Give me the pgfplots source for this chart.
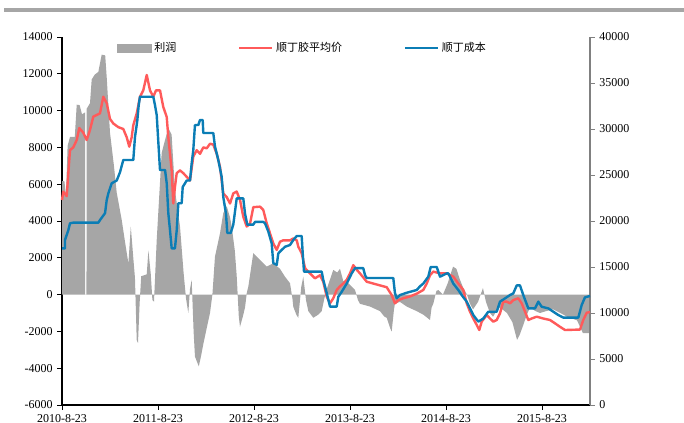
\documentclass[border=0pt]{standalone}
\usepackage{pgfplots}
\pgfplotsset{compat=1.18}
\usepackage{fontspec}
\setmainfont{Liberation Serif}
\newfontfamily\cjk{Noto Sans CJK SC}
\definecolor{profitgray}{HTML}{A6A6A6}
\definecolor{pricered}{HTML}{FF5A5A}
\definecolor{costblue}{HTML}{0B7DB5}
\definecolor{axgray}{HTML}{808080}
\pgfplotsset{
  linelegend/.style={legend image code/.code={\draw[##1] (0pt,0pt) -- (25pt,0pt);}},
  myaxis/.style={
    at={(46.5pt,13.5pt)}, anchor=south west, scale only axis,
    width=396pt, height=276pt, xmin=0, xmax=66,
    font=\fontsize{9}{10}\selectfont,
    tick align=outside, major tick length=3.5pt,
    scaled y ticks=false,
    yticklabel style={/pgf/number format/.cd, 1000 sep={}, assume math mode=true},
    clip=false,
  }
}
\begin{document}
\begin{tikzpicture}
\useasboundingbox (0,0) rectangle (513pt,317.25pt);
\draw[profitgray, line width=3pt] (3pt,309.75pt) -- (513pt,309.75pt);
\begin{axis}[myaxis,
  ymin=-6000, ymax=14000,
  axis x line*=bottom, axis y line*=left,
  axis line style={black, line width=0.8pt},
  tick style={black, line width=0.6pt},
  xtick={0,12,24,36,48,60},
  xticklabels={2010-8-23,2011-8-23,2012-8-23,2013-8-23,2014-8-23,2015-8-23},
  ytick={-6000,-4000,-2000,0,2000,4000,6000,8000,10000,12000,14000},
]
\addplot[fill=profitgray, draw=none] coordinates {
(0,6160)(0.3,6160)(0.5,5400)(0.7,8080)(1.0,8570)(1.6,8570)(1.84,10320)(2.2,10300)(2.5,9800)
(2.88,9900)(2.9,0)(3.06,0)(3.08,10100)(3.5,10400)(3.71,11690)(4.1,11960)(4.54,12100)
(4.96,13040)(5.4,13000)(5.59,11800)(6.0,8800)(6.5,6970)(6.84,5540)(7.46,4070)(7.9,2800)
(8.3,1700)(8.6,3700)(8.9,2060)(9.12,900)(9.34,-2470)(9.5,-2630)(9.7,-500)(9.9,1000)
(10.59,1100)(10.8,2400)(11.1,1100)(11.3,-300)(11.5,-380)(11.84,2970)(12.46,7700)(12.88,8400)
(13.29,9050)(13.7,8700)(14.12,5680)(14.75,3700)(15.2,1180)(15.5,-200)(15.79,-1000)(16.0,300)
(16.21,800)(16.45,-2000)(16.62,-3370)(17.1,-3900)(17.4,-3300)(17.66,-2700)(18.1,-1800)(18.5,-1000)
(18.8,0)(19.12,2060)(19.75,3330)(20.16,4430)(20.59,4800)(21.0,4200)(21.21,3700)(21.6,2400)
(21.84,1000)(22.1,-1200)(22.25,-1750)(22.6,-1200)(22.88,-700)(23.1,100)(23.29,430)(23.91,2250)
(24.75,1880)(25.59,1520)(26.41,1700)(27.25,1400)(27.88,970)(28.5,620)(28.8,-200)(28.91,-660)
(29.3,-1100)(29.54,-1260)(29.9,400)(30.16,970)(30.5,-300)(30.79,-900)(31.41,-1260)(32.0,-1100)
(32.46,-900)(32.8,-200)(33.09,300)(33.91,1340)(34.4,1200)(34.75,1400)(35.16,740)(35.79,620)
(36.3,400)(36.62,260)(37.0,-300)(37.25,-500)(38.5,-650)(39.75,-900)(40.3,-1200)(40.59,-1260)
(41.0,-1800)(41.21,-2010)(41.5,-800)(41.62,-480)(42.25,-400)(43.09,-650)(44.34,-900)(45.2,-1100)
(46.0,-1380)(46.2,-700)(46.41,-500)(46.8,200)(47.04,250)(47.4,100)(47.62,0)(48.2,600)
(48.88,1520)(49.3,1400)(49.75,800)(50.12,400)(50.62,0)(51.0,-500)(51.38,-800)(52.0,-400)
(52.62,350)(53.0,-400)(53.5,-1000)(53.88,-1200)(54.3,-900)(54.75,-700)(55.62,-1000)(56.3,-1500)
(56.88,-2460)(57.2,-2200)(57.62,-1700)(58.1,-1100)(58.5,-700)(59.2,-900)(59.75,-1000)(60.5,-900)
(61.38,-800)(62.3,-1000)(63.12,-1200)(64.38,-1400)(65.12,-2100)(66,-2100)
} \closedcycle;
\end{axis}
\begin{axis}[myaxis,
  ymin=0, ymax=40000,
  axis y line*=right, axis x line=none,
  axis line style={axgray, line width=0.8pt},
  tick style={axgray, line width=0.6pt},
  ytick={0,5000,10000,15000,20000,25000,30000,35000,40000},
  legend columns=3,
  legend style={at={(0.1042,0.970)}, anchor=west, draw=none, fill=none, inner sep=0pt,
    font=\cjk\fontsize{8.25}{9}\selectfont,
    /tikz/every even column/.append style={column sep=44pt}},
  legend cell align=left,
]
\addlegendimage{legend image code/.code={\fill[profitgray] (0pt,-3pt) rectangle (25.5pt,3pt);}}
\addlegendentry{利润}
\addplot[pricered, line width=1.8pt, line join=round, linelegend] coordinates {
(0,22280)(0.16,23190)(0.59,22700)(0.79,25200)(1.0,27700)(1.41,28000)(1.84,28800)(2.16,30100)
(2.66,29600)(3.09,28800)(3.5,29900)(3.91,31340)(4.75,31700)(5.16,33510)(5.59,32800)(6.0,31100)
(6.41,30600)(7.04,30200)(7.66,30000)(8.09,29100)(8.41,28080)(8.71,29100)(8.91,30400)(9.34,31700)
(9.75,33500)(10.16,34200)(10.59,35870)(11.0,34200)(11.41,33500)(11.75,34200)(12.25,34200)(12.66,32400)
(13.09,31300)(13.29,29100)(13.71,25500)(13.91,21900)(14.12,23700)(14.34,25200)(14.75,25500)(15.16,25200)
(15.59,24800)(16.0,24400)(16.41,27000)(16.84,27700)(17.25,27300)(17.66,28000)(18.09,27900)(18.5,28400)
(18.91,28300)(19.34,27300)(19.75,25900)(20.16,23000)(20.59,22600)(21.0,21900)(21.41,23000)(21.84,23200)
(22.25,22300)(22.66,20470)(23.09,19400)(23.5,19700)(23.91,21500)(24.75,21560)(25.16,21200)(25.59,19750)
(26.0,18660)(26.41,17570)(26.84,16850)(27.25,17750)(27.66,17900)(28.5,17900)(28.91,18100)(29.34,17900)
(29.54,17200)(29.96,16500)(30.38,14870)(31.0,14300)(31.62,13770)(32.25,14100)(32.66,13400)(33.09,11770)
(33.5,11050)(33.91,11600)(34.34,12500)(34.75,12900)(35.16,13200)(35.59,13600)(36.0,14300)(36.41,15200)
(36.84,14700)(37.25,14300)(38.09,13400)(38.91,13200)(39.75,13000)(40.59,12800)(41.21,11950)(41.62,11050)
(42.04,11400)(42.66,11600)(43.5,11800)(44.34,12100)(45.16,12500)(45.59,13200)(46.0,14100)(46.41,14500)
(47.25,14300)(48.09,14300)(48.91,13950)(49.54,13200)(50.16,12500)(50.59,11050)(51.0,10140)(51.41,9400)
(51.84,8700)(52.16,8150)(52.46,9060)(53.09,9780)(53.5,9400)(53.91,9060)(54.34,9240)(54.75,9960)
(55.16,11230)(55.59,11230)(56.0,11050)(56.41,11400)(57.04,11600)(57.46,11050)(57.88,10140)(58.29,9240)
(58.71,9400)(59.34,9600)(60.16,9400)(61.0,9240)(61.62,8880)(62.25,8500)(62.88,8150)(64.75,8200)
(65.16,9240)(65.59,10030)(66.0,10100)
};
\addlegendentry{顺丁胶平均价}
\addplot[costblue, line width=1.8pt, line join=round, linelegend] coordinates {
(0,17030)(0.375,17030)(0.375,17940)(0.79,19000)(1.0,19750)(1.41,19820)(4.54,19820)(4.75,20100)
(5.38,20850)(5.59,22280)(5.79,23000)(6.21,24100)(6.84,24400)(7.25,25300)(7.66,26630)(8.91,26630)
(9.12,29100)(9.41,30900)(9.59,32600)(9.75,33510)(11.41,33510)(11.62,32600)(11.84,31500)(12.25,25540)
(12.88,25540)(13.09,24100)(13.29,20850)(13.5,19000)(13.71,17030)(14.12,17030)(14.34,19000)(14.54,21930)
(14.96,21930)(15.09,23700)(15.59,24400)(16.0,24400)(16.21,26270)(16.41,27700)(16.62,30430)(17.04,30430)
(17.25,30980)(17.59,30980)(17.66,29560)(18.91,29560)(19.12,28100)(19.54,26630)(19.96,24800)(20.16,22600)
(20.5,20800)(20.66,18700)(21.09,18700)(21.41,19600)(21.84,22460)(22.66,22460)(22.88,20800)(23.16,19600)
(23.91,19600)(24.12,19900)(25.16,19900)(25.38,19750)(25.79,18850)(26.21,17570)(26.41,15420)(26.84,15230)
(27.04,16480)(27.46,16850)(27.88,17200)(28.5,17390)(28.91,17930)(29.34,18370)(29.96,18370)(30.09,16480)
(30.25,14500)(32.46,14500)(32.66,13600)(33.09,12170)(33.5,10700)(34.34,10700)(34.54,11770)(34.96,12300)
(35.59,13200)(36.21,14300)(36.62,14870)(37.66,14870)(37.88,14100)(38.09,13800)(41.41,13800)(41.62,12170)
(41.84,11600)(42.25,11950)(43.09,12200)(44.34,12500)(44.75,12900)(45.16,13200)(45.79,13950)(46.09,15000)
(46.84,15000)(47.25,13950)(48.09,14300)(48.29,14300)(48.5,13950)(48.91,13200)(49.54,12500)(49.96,11950)
(50.59,11230)(51.41,9780)(52.04,9060)(52.66,9400)(53.29,10140)(54.34,10140)(54.75,11230)(56.0,11950)
(56.41,12130)(56.84,13000)(57.25,13000)(57.66,11950)(58.29,10500)(59.12,10500)(59.54,11230)(59.96,10680)
(60.79,10500)(61.41,10140)(62.04,9780)(62.66,9500)(64.54,9500)(64.96,10860)(65.37,11700)(66.0,11850)
};
\addlegendentry{顺丁成本}
\end{axis}
\end{tikzpicture}
\end{document}
